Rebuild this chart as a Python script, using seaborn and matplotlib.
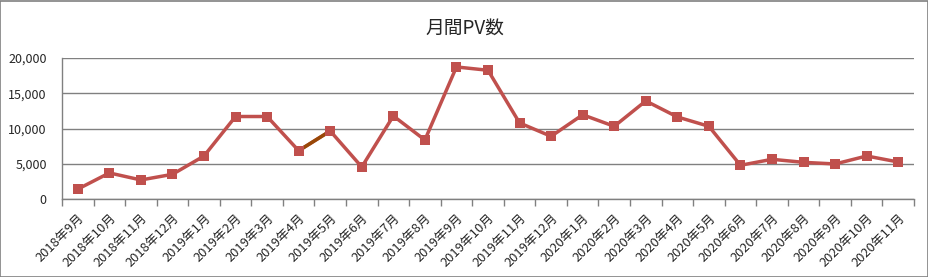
import matplotlib
matplotlib.use("Agg")
import matplotlib.pyplot as plt
import seaborn as sns
import pandas as pd
import numpy as np
from matplotlib.patches import Rectangle
from matplotlib.ticker import FuncFormatter, FixedLocator

months = ["2018年9月", "2018年10月", "2018年11月", "2018年12月",
          "2019年1月", "2019年2月", "2019年3月", "2019年4月", "2019年5月",
          "2019年6月", "2019年7月", "2019年8月", "2019年9月", "2019年10月",
          "2019年11月", "2019年12月", "2020年1月", "2020年2月", "2020年3月",
          "2020年4月", "2020年5月", "2020年6月", "2020年7月", "2020年8月",
          "2020年9月", "2020年10月", "2020年11月"]
pv = [1400, 3700, 2700, 3500, 6100, 11700, 11700, 6850, 9650, 4540,
      11780, 8370, 18730, 18260, 10790, 8890, 11950, 10310, 13910, 11640,
      10310, 4780, 5630, 5200, 4970, 6100, 5250]
highlight = ["2019年4月", "2019年5月"]

sns.set_theme(style="white")
plt.rcParams['font.family'] = ['Noto Sans CJK JP', 'DejaVu Sans']

df = pd.DataFrame({"month": months, "pv": pv})
df["pos"] = np.arange(len(df))
seg = df[df["month"].isin(highlight)]

fig = plt.figure(figsize=(9.29, 2.77), dpi=100)
ax = fig.add_axes([62/929, 1-199/277, (914-62)/929, (199-58)/277])

line_col = "#C0504D"
sns.lineplot(data=df, x="pos", y="pv", ax=ax, color=line_col, linewidth=2.5,
             zorder=3)
sns.lineplot(data=seg, x="pos", y="pv", ax=ax, color="#984807", linewidth=2.5,
             zorder=4)
ax.scatter(df["pos"], df["pv"], marker="s", s=42, color=line_col, zorder=5,
           linewidths=0)

ax.set_xlim(-0.5, len(df) - 0.5)
ax.set_ylim(0, 20000)
ax.set_yticks([0, 5000, 10000, 15000, 20000])
ax.yaxis.set_major_formatter(FuncFormatter(lambda v, p: f"{int(v):,}"))
ax.grid(axis="y", color="#808080", linewidth=1)
ax.set_axisbelow(True)

ax.set_xticks(df["pos"])
ax.set_xticklabels(months, rotation=45, ha="right", rotation_mode="anchor",
                   fontsize=9.3)
ax.tick_params(axis="x", which="major", length=0, pad=9)
ax.xaxis.set_minor_locator(FixedLocator(np.arange(-0.5, len(df), 1)))
ax.tick_params(axis="x", which="minor", length=5, color="#808080", width=1,
               bottom=True)
ax.tick_params(axis="y", length=0, labelsize=9, pad=11)
ax.set_xlabel("")
ax.set_ylabel("")

for s in ["top", "right"]:
    ax.spines[s].set_visible(False)
for s in ["left", "bottom"]:
    ax.spines[s].set_color("#808080")
    ax.spines[s].set_linewidth(1)

fig.text(0.5, 1-28/277, "月間PV数", ha="center", va="center", fontsize=13.5)
fig.patches.append(Rectangle((0.5/929, 0.5/277), 1-1/929, 1-1/277,
                             transform=fig.transFigure, fill=False,
                             edgecolor="#808080", linewidth=1.2))

fig.savefig("out.png", dpi=100)
